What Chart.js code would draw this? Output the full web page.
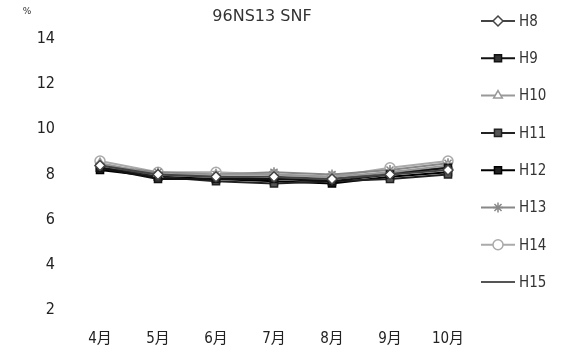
<!DOCTYPE html>
<html>
<head>
<meta charset="utf-8">
<script src="https://cdn.jsdelivr.net/npm/chart.js"></script>
<style>
  html, body { margin: 0; padding: 0; background: #fff; }
  #wrap { width: 563px; height: 353px; }
</style>
</head>
<body>
<div id="wrap"><canvas id="canvas" width="563" height="353"></canvas></div>
<script>
const months = ['4月', '5月', '6月', '7月', '8月', '9月', '10月'];
const seriesNames = ['H8', 'H9', 'H10', 'H11', 'H12', 'H13', 'H14', 'H15'];
const h8 = [8.4, 8.0, 7.9, 7.9, 7.8, 8.0, 8.2];
const h9 = [8.3, 7.8, 7.8, 7.8, 7.7, 8.0, 8.3];
const h10 = [8.5, 8.0, 8.0, 8.0, 7.9, 8.1, 8.4];
const h11 = [8.3, 7.9, 7.7, 7.6, 7.7, 7.8, 8.0];
const h12 = [8.2, 7.9, 7.8, 7.7, 7.6, 7.9, 8.1];
const h13 = [8.4, 8.1, 8.0, 8.1, 8.0, 8.2, 8.5];
const h14 = [8.6, 8.1, 8.1, 8.0, 7.9, 8.3, 8.6];
const h15 = [8.3, 8.0, 7.9, 7.8, 7.8, 8.1, 8.3];
const yMin = 2;
const yMax = 14;
const titleText = '96NS13 SNF';
const unitText = '%';

const font = "'Liberation Sans Narrow', 'DejaVu Sans Condensed', 'DejaVu Sans', 'Noto Sans CJK JP', sans-serif";

const styles = [
  { color: '#444', point: 'rectRot', fill: '#fff', r: 5 },
  { color: '#111', point: 'rect', fill: '#333', r: 5 },
  { color: '#999', point: 'triangle', fill: '#fff', r: 5 },
  { color: '#222', point: 'rect', fill: '#555', r: 5 },
  { color: '#000', point: 'rect', fill: '#222', r: 5 },
  { color: '#888', point: 'star', fill: '#fff', r: 5 },
  { color: '#aaa', point: 'circle', fill: '#fff', r: 5 },
  { color: '#555', point: 'circle', fill: '#555', r: 0 },
];

const allData = [h8, h9, h10, h11, h12, h13, h14, h15];

const datasets = allData.map((d, i) => ({
  label: seriesNames[i],
  data: d,
  borderColor: styles[i].color,
  backgroundColor: styles[i].fill,
  borderWidth: 2,
  pointStyle: styles[i].point,
  pointRadius: styles[i].r,
  pointBorderColor: styles[i].color,
  pointBackgroundColor: styles[i].fill,
  pointBorderWidth: 1.5,
  tension: 0,
  fill: false,
}));

// title, unit mark and the legend on the right
const extras = {
  id: 'extras',
  afterDraw(chart) {
    const ctx = chart.ctx;
    ctx.save();
    ctx.fillStyle = '#333';
    ctx.font = "16px 'DejaVu Sans', sans-serif";
    ctx.textAlign = 'center';
    ctx.textBaseline = 'middle';
    ctx.fillText(titleText, 262, 17);

    ctx.font = "9px 'DejaVu Sans', sans-serif";
    ctx.fillText(unitText, 27, 12);

    ctx.font = "condensed 15px " + font;
    ctx.textAlign = 'left';
    chart.data.datasets.forEach((ds, i) => {
      const y = 21 + i * 37.3;
      ctx.strokeStyle = ds.borderColor;
      ctx.lineWidth = 2;
      ctx.beginPath();
      ctx.moveTo(481, y);
      ctx.lineTo(515, y);
      ctx.stroke();
      if (ds.pointRadius > 0) {
        ctx.fillStyle = ds.pointBackgroundColor;
        ctx.strokeStyle = ds.pointBorderColor;
        ctx.lineWidth = 1.5;
        Chart.helpers.drawPoint(ctx, {
          pointStyle: ds.pointStyle,
          radius: ds.pointRadius,
          borderWidth: 1.5,
          rotation: 0,
        }, 498, y);
      }
      ctx.fillStyle = '#333';
      ctx.fillText(ds.label, 519, y + 1);
    });
    ctx.restore();
  },
};

const config = {
  type: 'line',
  data: { labels: months, datasets: datasets },
  options: {
    responsive: false,
    animation: false,
    devicePixelRatio: 1,
    layout: { padding: { top: 39, right: 86, left: 0, bottom: 0 } },
    plugins: {
      legend: { display: false },
      title: { display: false },
      tooltip: { enabled: false },
    },
    scales: {
      x: {
        offset: true,
        grid: { display: false, drawTicks: false },
        border: { display: false },
        ticks: { color: '#222', padding: 20, font: { family: font, size: 15, weight: 'condensed' } },
        afterFit(scale) { scale.height = 43; },
      },
      y: {
        min: yMin,
        max: yMax,
        grid: { display: false, drawTicks: false },
        border: { display: false },
        ticks: { stepSize: 2, color: '#222', padding: 16, font: { family: font, size: 16, weight: 'condensed' } },
        afterFit(scale) { scale.width = 71; },
      },
    },
  },
  plugins: [extras],
};

const ctx = document.getElementById('canvas').getContext('2d');
window.myLine = new Chart(ctx, config);
</script>
</body>
</html>
